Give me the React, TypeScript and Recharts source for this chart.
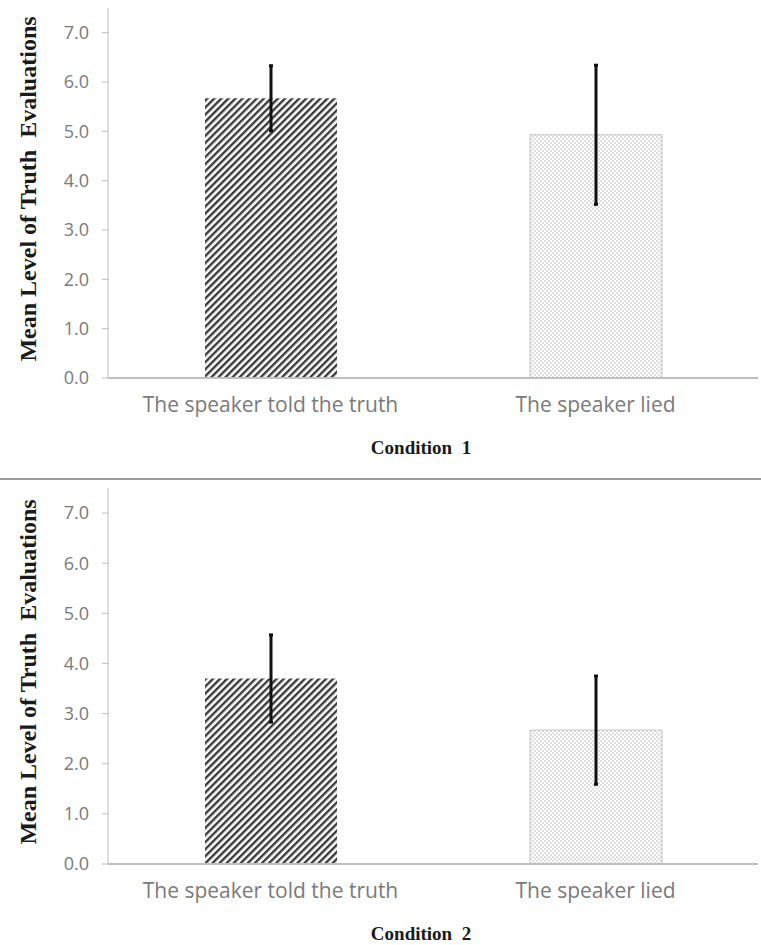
import { BarChart, Bar, XAxis, YAxis, ErrorBar, Cell } from "recharts";

const categories = ["The speaker told the truth", "The speaker lied"];
const cond1Means = [5.67, 4.93];
const cond1Errors = [0.66, 1.41];
const cond2Means = [3.7, 2.67];
const cond2Errors = [0.87, 1.08];
const yTicks = [0, 1, 2, 3, 4, 5, 6, 7];
const boundaryTicks = [0, 1, 2];

const axisGray = "#bfbfbf";
const tickGray = "#7a7a7a";
const serif = "'Liberation Serif', 'Times New Roman', serif";
const sans = "'Open Sans', 'Noto Sans', sans-serif";

const fills = ["url(#hatch)", "url(#dots)"];
const strokes = ["none", "#c4c4c4"];

const YTitle = (props: any) => {
  const { viewBox } = props;
  const cx = 28;
  const cy = viewBox.y + viewBox.height / 2 - 4;
  return (
    <text
      x={cx}
      y={cy}
      transform={`rotate(-90, ${cx}, ${cy})`}
      textAnchor="middle"
      dominantBaseline="central"
      fontFamily={serif}
      fontWeight="bold"
      fontSize={24}
      fill="#1a1a1a"
      style={{ whiteSpace: "pre" }}
    >
      Mean Level of Truth  Evaluations
    </text>
  );
};

const makeXTitle = (title: string) => (props: any) => {
  const { viewBox } = props;
  return (
    <text
      x={viewBox.x + viewBox.width / 2 - 12}
      y={viewBox.y + 69}
      textAnchor="middle"
      dominantBaseline="central"
      fontFamily={serif}
      fontWeight="bold"
      fontSize={19}
      fill="#1a1a1a"
      style={{ whiteSpace: "pre" }}
    >
      {title}
    </text>
  );
};

interface PanelProps {
  means: number[];
  errors: number[];
  title: string;
  height: number;
  axisHeight: number;
}

const Panel = ({ means, errors, title, height, axisHeight }: PanelProps) => {
  const data = categories.map((name, i) => ({ name, mean: means[i], err: errors[i] }));
  return (
    <BarChart
      width={761}
      height={height}
      data={data}
      margin={{ top: 8, right: 3, left: 0, bottom: 0 }}
    >
      <defs>
        <pattern id="hatch" patternUnits="userSpaceOnUse" width={5} height={5} patternTransform="rotate(45)">
          <rect x={0} y={0} width={5} height={5} fill="#ffffff" />
          <rect x={0} y={0} width={2.4} height={5} fill="#3a3a3a" />
        </pattern>
        <pattern id="dots" patternUnits="userSpaceOnUse" width={4} height={4}>
          <rect x={0} y={0} width={4} height={4} fill="#ffffff" />
          <circle cx={1} cy={1} r={0.9} fill="#cfcfcf" />
          <circle cx={3} cy={3} r={0.9} fill="#cfcfcf" />
        </pattern>
      </defs>
      <XAxis
        xAxisId="bounds"
        type="number"
        domain={[0, 2]}
        ticks={boundaryTicks}
        tick={false}
        tickSize={6}
        tickLine={{ stroke: axisGray }}
        axisLine={false}
        height={0}
      />
      <XAxis
        dataKey="name"
        height={axisHeight}
        axisLine={{ stroke: axisGray, strokeWidth: 2 }}
        tickLine={false}
        tickSize={0}
        tickMargin={19}
        tick={{ fontSize: 21, fill: tickGray, fontFamily: sans }}
        label={{ content: makeXTitle(title) }}
      />
      <YAxis
        width={108}
        domain={[0, 7.5]}
        ticks={yTicks}
        tickFormatter={(v: number) => v.toFixed(1)}
        axisLine={{ stroke: axisGray }}
        tickLine={{ stroke: axisGray }}
        tickSize={6}
        tickMargin={13}
        tick={{ fontSize: 18, fill: tickGray, fontFamily: sans }}
        label={{ content: YTitle }}
      />
      <Bar dataKey="mean" barSize={132} isAnimationActive={false}>
        {data.map((_, i) => (
          <Cell key={i} fill={fills[i]} stroke={strokes[i]} />
        ))}
        <ErrorBar dataKey="err" width={2} stroke="#111" strokeWidth={3} direction="y" />
      </Bar>
    </BarChart>
  );
};

export default function App() {
  return (
    <div style={{ position: "absolute", left: 0, top: 0, width: 761, height: 945, background: "#fff" }}>
      <Panel means={cond1Means} errors={cond1Errors} title="Condition  1" height={478} axisHeight={100} />
      <div style={{ height: 2, background: "#9a9a9a" }} />
      <Panel means={cond2Means} errors={cond2Errors} title="Condition  2" height={465} axisHeight={81} />
    </div>
  );
}
